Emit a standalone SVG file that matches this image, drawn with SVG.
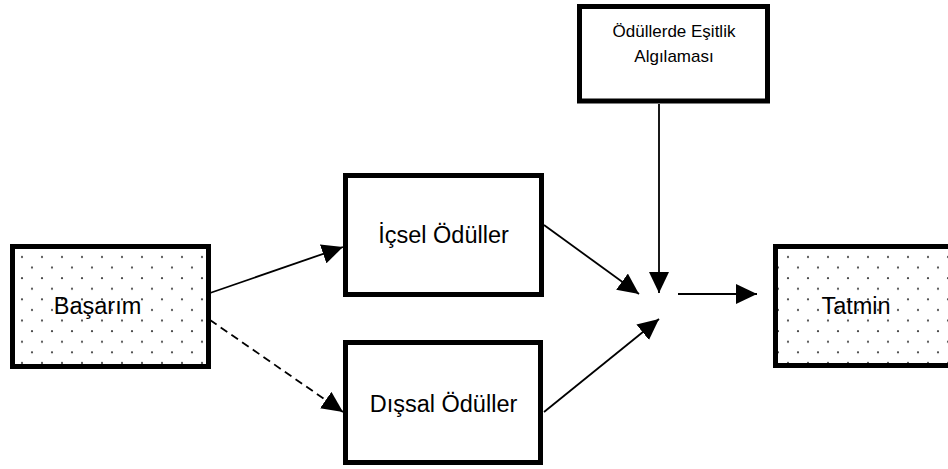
<svg xmlns="http://www.w3.org/2000/svg" width="948" height="469" viewBox="0 0 948 469">
  <style>
    .box { fill: #fff; stroke: #000; stroke-width: 5; }
    .lbl { font-family: "Liberation Sans", Arial, sans-serif; font-size: 23.5px; fill: #000; text-anchor: middle; }
    .lbl2 { font-family: "Liberation Sans", Arial, sans-serif; font-size: 17px; fill: #000; text-anchor: middle; }
    .conn { stroke: #000; stroke-width: 1.8; fill: none; marker-end: url(#arrow); }
    .dash { stroke-dasharray: 8 5; }
  </style>
  <defs>
    <marker id="arrow" markerUnits="userSpaceOnUse" markerWidth="21" markerHeight="20" refX="21" refY="10" orient="auto" viewBox="0 0 21 20">
      <path d="M0,0 L21,10 L0,20 z" fill="#000"/>
    </marker>
    <pattern id="dots1" patternUnits="userSpaceOnUse" x="17" y="252" width="20" height="21.2">
      <circle cx="5" cy="5" r="1.1" fill="#444"/>
      <circle cx="15" cy="15.6" r="1.1" fill="#444"/>
    </pattern>
    <pattern id="dots2" patternUnits="userSpaceOnUse" x="783" y="252" width="20" height="21.2">
      <circle cx="5" cy="5" r="1.1" fill="#444"/>
      <circle cx="15" cy="15.6" r="1.1" fill="#444"/>
    </pattern>
  </defs>

  <g id="connectors">
    <line class="conn" x1="210" y1="293" x2="343" y2="247"/>
    <line class="conn dash" x1="210" y1="320" x2="343" y2="412"/>
    <line class="conn" x1="544" y1="225" x2="639" y2="294"/>
    <line class="conn" x1="544" y1="412" x2="659" y2="319"/>
    <line class="conn" x1="659" y1="104" x2="659" y2="293"/>
    <line class="conn" x1="678" y1="294" x2="757" y2="294"/>
  </g>

  <g id="basarim">
    <rect class="box" x="12.5" y="246.5" width="196" height="120" style="fill:url(#dots1)"/>
    <text class="lbl" x="97.5" y="314">Başarım</text>
  </g>

  <g id="icsel">
    <rect class="box" x="345.5" y="175.5" width="196" height="119"/>
    <text class="lbl" x="443.5" y="243">İçsel Ödüller</text>
  </g>

  <g id="dissal">
    <rect class="box" x="345.5" y="342.5" width="195" height="120"/>
    <text class="lbl" x="443.5" y="412">Dışsal Ödüller</text>
  </g>

  <g id="esitlik">
    <rect class="box" x="579.5" y="6.5" width="188" height="94.5"/>
    <text class="lbl2" x="674" y="37">Ödüllerde Eşitlik</text>
    <text class="lbl2" x="674" y="62">Algılaması</text>
  </g>

  <g id="tatmin">
    <rect class="box" x="775.5" y="246.5" width="200" height="119" style="fill:url(#dots2)"/>
    <text class="lbl" x="856" y="314">Tatmin</text>
  </g>
</svg>
